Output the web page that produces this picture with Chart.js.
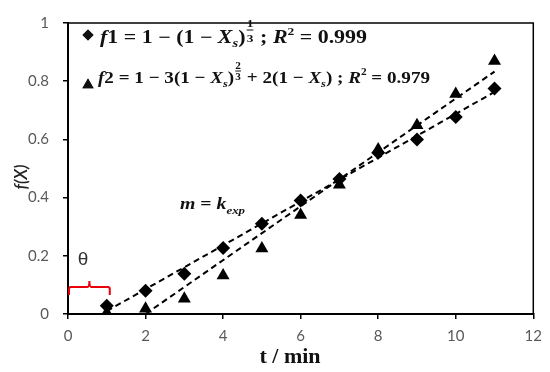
<!DOCTYPE html>
<html>
<head>
<meta charset="utf-8">
<script src="https://cdn.jsdelivr.net/npm/chart.js@4.4.1/dist/chart.umd.min.js"></script>
<style>
  body { margin: 0; background: #fff; }
  canvas { display: block; }
</style>
</head>
<body>
<canvas id="chart" width="550" height="372"></canvas>
<script>
// valores
const tempos = [1, 2, 3, 4, 5, 6, 7, 8, 9, 10, 11];
const f1Valores = [0.028, 0.08, 0.138, 0.227, 0.31, 0.39, 0.464, 0.554, 0.60, 0.677, 0.775];
const f2Valores = [0.004, 0.018, 0.052, 0.132, 0.225, 0.34, 0.444, 0.565, 0.649, 0.756, 0.869];

// extremos das retas de ajuste (tracejadas)
const ajuste1X = [1, 11];
const ajuste1Y = [0.01, 0.763];
const ajuste2X = [2, 11];
const ajuste2Y = [0.0, 0.833];

const xTicks = [0, 2, 4, 6, 8, 10, 12];
const yTicks = [0, 0.2, 0.4, 0.6, 0.8, 1];

const pares = (xs, ys) => xs.map((x, i) => ({ x: x, y: ys[i] }));

const SERIF = "'Liberation Serif', 'DejaVu Serif', serif";

// desenha uma sequência de pedaços de texto, ajustando à largura desejada
function drawRuns(ctx, x, y, runs, largura) {
    let total = 0;
    runs.forEach(r => {
        ctx.font = r.font;
        r.w = r.frac ? Math.max(ctx.measureText(r.frac[0]).width, ctx.measureText(r.frac[1]).width) + 2 : ctx.measureText(r.text).width;
        total += r.w;
    });
    ctx.save();
    ctx.translate(x, y);
    if (largura) ctx.scale(largura / total, 1);
    let cx = 0;
    ctx.textAlign = 'left';
    ctx.textBaseline = 'alphabetic';
    runs.forEach(r => {
        ctx.font = r.font;
        if (r.frac) {
            ctx.textAlign = 'center';
            ctx.fillText(r.frac[0], cx + r.w / 2, r.dy[0]);
            ctx.fillText(r.frac[1], cx + r.w / 2, r.dy[2]);
            ctx.fillRect(cx + 1, r.dy[1], r.w - 2, 1);
            ctx.textAlign = 'left';
        } else {
            ctx.fillText(r.text, cx, r.dy || 0);
        }
        cx += r.w;
    });
    ctx.restore();
}

const anotacoes = {
    id: 'anotacoes',
    afterDraw(chart) {
        const ctx = chart.ctx;
        const area = chart.chartArea;
        const xs = chart.scales.x;
        const ys = chart.scales.y;

        // moldura da área do gráfico
        ctx.save();
        ctx.strokeStyle = '#000';
        ctx.lineWidth = 1.5;
        ctx.beginPath();
        ctx.moveTo(area.left, area.top);
        ctx.lineTo(area.right, area.top);
        ctx.lineTo(area.right, area.bottom);
        ctx.stroke();

        // títulos dos eixos
        ctx.fillStyle = '#111';
        ctx.font = 'bold 22px ' + SERIF;
        ctx.textAlign = 'center';
        ctx.textBaseline = 'alphabetic';
        ctx.fillText('t / min', 290, 363);

        ctx.save();
        ctx.translate(27, 177);
        ctx.rotate(-Math.PI / 2);
        ctx.font = 'italic 600 17px Lato';
        ctx.fillStyle = '#222';
        ctx.fillText('f(X)', 0, 0);
        ctx.restore();

        // legenda com as equações
        ctx.fillStyle = '#111';
        const bi = s => 'bold italic ' + s + 'px ' + SERIF;
        const b = s => 'bold ' + s + 'px ' + SERIF;
        Chart.helpers.drawPoint(ctx, { pointStyle: 'rectRot', radius: 5.5, borderWidth: 0 }, 88, 35);
        ctx.fill();
        drawRuns(ctx, 100, 43, [
            { text: 'f', font: bi(18) },
            { text: '1 = 1 \u2212 (1 \u2212 ', font: b(18) },
            { text: 'X', font: bi(18) },
            { text: 's', font: bi(12), dy: 4 },
            { text: ')', font: b(18) },
            { frac: ['1', '3'], font: b(11), dy: [-16, -13.5, -1.5] },
            { text: ' ; ', font: b(18) },
            { text: 'R', font: bi(18) },
            { text: '2', font: b(11), dy: -8 },
            { text: ' = 0.999', font: b(18) }
        ], 267);

        Chart.helpers.drawPoint(ctx, { pointStyle: 'triangle', radius: 6.5, borderWidth: 0 }, 88, 85);
        ctx.fill();
        drawRuns(ctx, 98, 83, [
            { text: 'f', font: bi(17) },
            { text: '2 = 1 \u2212 3(1 \u2212 ', font: b(17) },
            { text: 'X', font: bi(17) },
            { text: 's', font: bi(11), dy: 4 },
            { text: ')', font: b(17) },
            { frac: ['2', '3'], font: b(10), dy: [-14, -12.5, -3] },
            { text: ' + 2(1 \u2212 ', font: b(17) },
            { text: 'X', font: bi(17) },
            { text: 's', font: bi(11), dy: 4 },
            { text: ') ; ', font: b(17) },
            { text: 'R', font: bi(17) },
            { text: '2', font: b(10), dy: -8 },
            { text: ' = 0.979', font: b(17) }
        ], 332);

        // inclinação
        drawRuns(ctx, 180, 209, [
            { text: 'm', font: bi(17) },
            { text: ' = ', font: b(17) },
            { text: 'k', font: bi(17) },
            { text: 'exp', font: bi(11), dy: 5 }
        ], 65);

        // theta e chave vermelha (tempo de indução)
        ctx.fillStyle = '#333';
        ctx.font = '19px "Liberation Sans"';
        ctx.textAlign = 'center';
        ctx.textBaseline = 'middle';
        ctx.fillText('\u03b8', 83, 260);

        const x0 = xs.getPixelForValue(0) + 1;
        const x1 = xs.getPixelForValue(1) + 3;
        const xm = (x0 + x1) / 2;
        const yb = ys.getPixelForValue(0.093);
        ctx.strokeStyle = '#e8000b';
        ctx.lineWidth = 2;
        ctx.beginPath();
        ctx.moveTo(x0, yb + 8);
        ctx.lineTo(x0, yb + 2);
        ctx.quadraticCurveTo(x0, yb, x0 + 2, yb);
        ctx.lineTo(xm - 2, yb);
        ctx.quadraticCurveTo(xm, yb, xm, yb - 6);
        ctx.quadraticCurveTo(xm, yb, xm + 2, yb);
        ctx.lineTo(x1 - 2, yb);
        ctx.quadraticCurveTo(x1, yb, x1, yb + 2);
        ctx.lineTo(x1, yb + 8);
        ctx.stroke();
        ctx.restore();
    }
};

new Chart(document.getElementById('chart'), {
    type: 'scatter',
    data: {
        datasets: [
            {
                type: 'line',
                data: pares(ajuste1X, ajuste1Y),
                borderColor: '#000',
                borderWidth: 2,
                borderDash: [6, 4],
                pointRadius: 0,
                fill: false
            },
            {
                type: 'line',
                data: pares(ajuste2X, ajuste2Y),
                borderColor: '#000',
                borderWidth: 2,
                borderDash: [6, 4],
                pointRadius: 0,
                fill: false
            },
            {
                label: 'f1',
                data: pares(tempos, f1Valores),
                pointStyle: 'rectRot',
                pointRadius: 7,
                backgroundColor: '#000',
                borderColor: '#000',
                borderWidth: 0
            },
            {
                label: 'f2',
                data: pares(tempos, f2Valores),
                pointStyle: 'triangle',
                pointRadius: 7.5,
                backgroundColor: '#000',
                borderColor: '#000',
                borderWidth: 0
            }
        ]
    },
    options: {
        responsive: false,
        animation: false,
        layout: { padding: { top: 11, right: 12, left: 0, bottom: 0 } },
        plugins: {
            legend: { display: false },
            tooltip: { enabled: false }
        },
        scales: {
            x: {
                type: 'linear',
                min: 0,
                max: 12,
                afterFit: s => { s.height = 58; },
                afterBuildTicks: s => { s.ticks = xTicks.map(v => ({ value: v })); },
                border: { color: '#000', width: 2 },
                grid: { drawOnChartArea: false, tickLength: 5, color: '#000', lineWidth: 1.5 },
                ticks: { color: '#595959', font: { family: 'Lato', size: 15 }, padding: 8, maxRotation: 0, callback: v => String(v) }
            },
            y: {
                min: 0,
                max: 1,
                afterFit: s => { s.width = 68; },
                afterBuildTicks: s => { s.ticks = yTicks.map(v => ({ value: v })); },
                border: { color: '#000', width: 2 },
                grid: { drawOnChartArea: false, tickLength: 5, color: '#000', lineWidth: 1.5 },
                ticks: { color: '#595959', font: { family: 'Lato', size: 15 }, padding: 14, callback: v => String(v) }
            }
        }
    },
    plugins: [anotacoes]
});
</script>
</body>
</html>
